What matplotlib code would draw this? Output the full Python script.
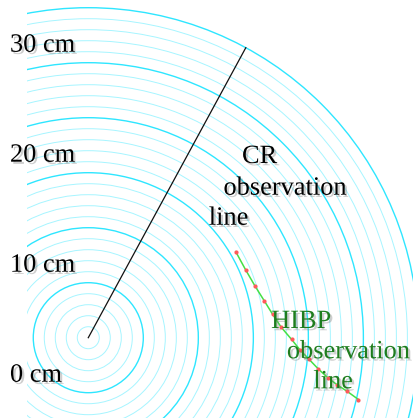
import numpy as np
import matplotlib
matplotlib.use("Agg")
import matplotlib.pyplot as plt
from matplotlib.patches import Circle
import matplotlib.patheffects as pe

# ---- data (cm) ----
circle_radii = list(range(1, 31))          # concentric circles every 1 cm
major_every = 5                             # emphasised every 5 cm
tick_values = [0, 10, 20, 30]
tick_labels = ["0 cm", "10 cm", "20 cm", "30 cm"]

cr_r = [0.0, 30.0]                          # CR observation chord (radial)
cr_angle_deg = 61.5

hibp_x = [13.40, 14.31, 15.15, 16.00, 16.75, 17.55, 18.47, 19.25, 20.06,
          20.91, 21.79, 22.64, 23.49, 24.55]
hibp_y = [7.82, 6.15, 4.70, 3.34, 2.13, 0.93, -0.15, -1.12, -1.96,
          -2.85, -3.66, -4.30, -4.85, -5.62]

# ---- figure ----
fig = plt.figure(figsize=(4.14, 4.18), dpi=100)
ax = fig.add_axes([27 / 414, 0, 387 / 414, 1])
ax.set_xlim(-5.57, 29.6)
ax.set_ylim(-7.3, 30.7)
ax.axis("off")

for r in circle_radii:
    major = (r % major_every == 0)
    ax.add_patch(Circle((0, 0), r, fill=False,
                        edgecolor="#2ee6ff" if major else "#a6f5ff",
                        lw=1.0 if major else 0.7, zorder=1))

th = np.deg2rad(cr_angle_deg)
ax.plot(np.array(cr_r) * np.cos(th), np.array(cr_r) * np.sin(th),
        color="#111111", lw=0.9, zorder=3)

ax.plot(hibp_x, hibp_y, color="#44e044", lw=1.1, zorder=3,
        marker="o", markersize=2.0, markerfacecolor="#ff5a5a",
        markeredgecolor="#ff5a5a")

shadow = [pe.SimplePatchShadow(offset=(1.6, -1.6), shadow_rgbFace="0.45",
                               alpha=0.35), pe.Normal()]
font = dict(family="Liberation Serif", fontsize=19)

for v, lab in zip(tick_values, tick_labels):
    ax.text(-7.12, v - 4.0, lab, ha="left", va="baseline", color="black",
            clip_on=False, path_effects=shadow, **font)

for (x, y, s) in [(15.57, 15.88, "CR"), (17.89, 13.0, "observation"),
                  (12.75, 10.27, "line")]:
    ax.text(x, y, s, ha="center", va="baseline", color="black",
            path_effects=shadow, zorder=4, **font)

for (x, y, s) in [(19.34, 0.88, "HIBP"), (23.65, -1.87, "observation"),
                  (22.25, -4.6, "line")]:
    ax.text(x, y, s, ha="center", va="baseline", color="#1e7d1e",
            path_effects=shadow, zorder=4, **font)

fig.savefig("out.png", dpi=100)
